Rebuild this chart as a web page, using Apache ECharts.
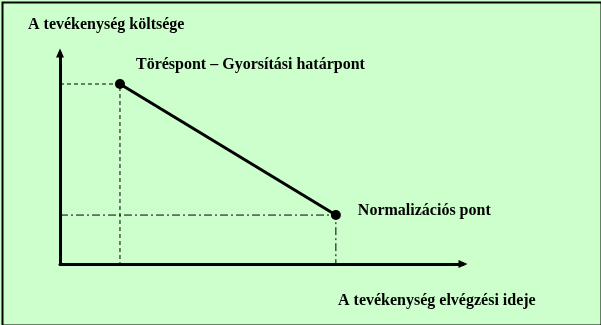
<!DOCTYPE html>
<html><head><meta charset="utf-8">
<script src="https://cdn.jsdelivr.net/npm/echarts@6/dist/echarts.min.js"></script>
<style>html,body{margin:0;padding:0;background:#ccffcc;}#c{width:601px;height:325px;}</style>
</head><body><div id="c"></div>
<script>
// Time (x) and cost (y) values of the two characteristic points
const pointNames = ['Töréspont – Gyorsítási határpont', 'Normalizációs pont'];
const timeValues = [2.5, 11.5];
const costValues = [8.53, 2.32];
const xAxisTitle = 'A tevékenység elvégzési ideje';
const yAxisTitle = 'A tevékenység költsége';
const xMax = 16.8, yMax = 10;

const font = {fontFamily: '"Liberation Serif","Times New Roman",serif', fontWeight: 'bold', fontSize: 16, color: '#000'};
const chart = echarts.init(document.getElementById('c'));
chart.setOption({
  backgroundColor: '#ccffcc',
  animation: false,
  grid: {left: 60, top: 53, width: 403, height: 211},
  xAxis: {type: 'value', min: 0, max: xMax, axisLabel: {show: false}, axisTick: {show: false}, splitLine: {show: false},
    axisLine: {lineStyle: {color: '#000', width: 3}, symbol: ['none', 'triangle'], symbolSize: [8, 9], symbolOffset: [0, 0]}},
  yAxis: {type: 'value', min: 0, max: yMax, axisLabel: {show: false}, axisTick: {show: false}, splitLine: {show: false},
    axisLine: {lineStyle: {color: '#000', width: 3}, symbol: ['none', 'triangle'], symbolSize: [8, 9], symbolOffset: [0, 0]}},
  graphic: [
    {type: 'rect', left: 0, top: 0, shape: {x: 1, y: 1, width: 599, height: 323}, style: {fill: 'none', stroke: '#000', lineWidth: 2}, silent: true},
    {type: 'text', left: 28, top: 17, style: {text: yAxisTitle, fill: '#000', font: 'bold 16px "Liberation Serif", serif'}},
    {type: 'text', left: 338, top: 293, style: {text: xAxisTitle, fill: '#000', font: 'bold 16px "Liberation Serif", serif'}}
  ],
  series: [
    {type: 'line', symbol: 'none', silent: true,
      lineStyle: {color: '#000', width: 1, type: [4, 3]},
      data: [[0, costValues[0]], [timeValues[0], costValues[0]], [timeValues[0], 0]]},
    {type: 'line', symbol: 'none', silent: true,
      lineStyle: {color: '#000', width: 1, type: [8, 3, 2, 3]},
      data: [[0, costValues[1]], [timeValues[1], costValues[1]], [timeValues[1], 0]]},
    {type: 'line', symbol: 'circle', symbolSize: 10, silent: true,
      itemStyle: {color: '#000'},
      lineStyle: {color: '#000', width: 3},
      data: [
        {value: [timeValues[0], costValues[0]], label: {show: true, formatter: pointNames[0], position: 'right', offset: [6, -19], ...font}},
        {value: [timeValues[1], costValues[1]], label: {show: true, formatter: pointNames[1], position: 'right', offset: [12, -4], ...font}}
      ]}
  ]
});
</script></body></html>
